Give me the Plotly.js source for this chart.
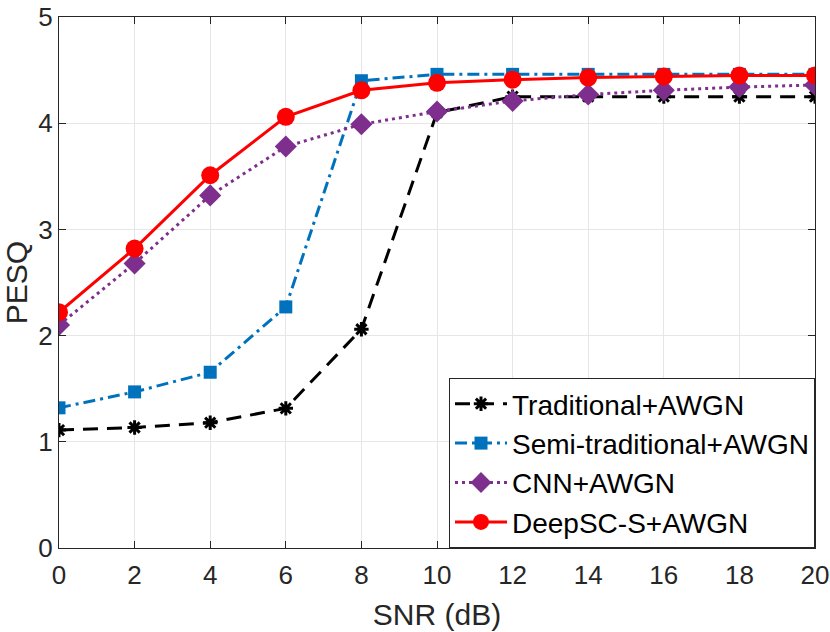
<!DOCTYPE html>
<html>
<head>
<meta charset="utf-8">
<script src="https://cdn.plot.ly/plotly-3.0.1.min.js"></script>
<style>html,body{margin:0;padding:0;background:#fff;}#chart{width:830px;height:632px;}</style>
</head>
<body>
<div id="chart"></div>
<script>
const snr = [0, 2, 4, 6, 8, 10, 12, 14, 16, 18, 20];
const traditional = [1.11, 1.135, 1.18, 1.315, 2.06, 4.10, 4.25, 4.25, 4.25, 4.25, 4.25];
const semiTraditional = [1.32, 1.47, 1.655, 2.27, 4.40, 4.46, 4.46, 4.46, 4.46, 4.46, 4.46];
const cnn = [2.10, 2.68, 3.32, 3.78, 3.99, 4.11, 4.21, 4.27, 4.31, 4.34, 4.36];
const deepsc = [2.22, 2.82, 3.51, 4.06, 4.31, 4.38, 4.41, 4.43, 4.44, 4.45, 4.45];
const names = ['Traditional+AWGN', 'Semi-traditional+AWGN', 'CNN+AWGN', 'DeepSC-S+AWGN'];
const xTicks = [0, 2, 4, 6, 8, 10, 12, 14, 16, 18, 20];
const yTicks = [0, 1, 2, 3, 4, 5];

const font = 'Liberation Sans, Arial, Helvetica, sans-serif';
const traces = [
  {x: snr, y: traditional, name: names[0], mode: 'lines+markers',
   line: {color: '#000000', width: 3, dash: '15px,9px'},
   marker: {symbol: 'asterisk-open', size: 12, color: '#000000', line: {color: '#000000', width: 3}}},
  {x: snr, y: semiTraditional, name: names[1], mode: 'lines+markers',
   line: {color: '#0072BD', width: 3, dash: '12px,5px,3px,5px'},
   marker: {symbol: 'square', size: 13, color: '#0072BD'}},
  {x: snr, y: cnn, name: names[2], mode: 'lines+markers',
   line: {color: '#7E2F8E', width: 3, dash: '3px,4px'},
   marker: {symbol: 'diamond', size: 17, color: '#7E2F8E'}},
  {x: snr, y: deepsc, name: names[3], mode: 'lines+markers',
   line: {color: '#FF0000', width: 3, dash: 'solid'},
   marker: {symbol: 'circle', size: 18, color: '#FF0000'}}
];

const axisCommon = {
  showline: true, mirror: 'ticks', linecolor: '#262626', linewidth: 1,
  ticks: 'inside', ticklen: 7, tickcolor: '#262626',
  showgrid: true, gridcolor: '#e6e6e6', gridwidth: 1, zeroline: false,
  ticklabeloverflow: 'allow',
  tickfont: {family: font, size: 26, color: '#262626'}
};

const layout = {
  width: 830, height: 632,
  margin: {l: 59, r: 15, t: 17, b: 84},
  paper_bgcolor: '#ffffff', plot_bgcolor: '#ffffff',
  showlegend: true,
  xaxis: Object.assign({}, axisCommon, {
    range: [0, 20], tickvals: xTicks, ticktext: xTicks.map(String),
    ticklabelstandoff: 4,
    title: {text: 'SNR (dB)', font: {family: font, size: 30, color: '#262626'}, standoff: 14}
  }),
  yaxis: Object.assign({}, axisCommon, {
    range: [0, 5.0001], tickvals: yTicks, ticktext: yTicks.map(String),
    title: {text: 'PESQ', font: {family: font, size: 30, color: '#262626'}, standoff: 4}
  }),
  legend: {
    x: 1, y: 0, xanchor: 'right', yanchor: 'bottom',
    bgcolor: '#ffffff', bordercolor: '#262626', borderwidth: 1,
    font: {family: font, size: 28, color: '#000000'},
    tracegroupgap: 0, itemwidth: 52
  }
};

Plotly.newPlot('chart', traces, layout, {displayModeBar: false, staticPlot: true});
</script>
</body>
</html>
